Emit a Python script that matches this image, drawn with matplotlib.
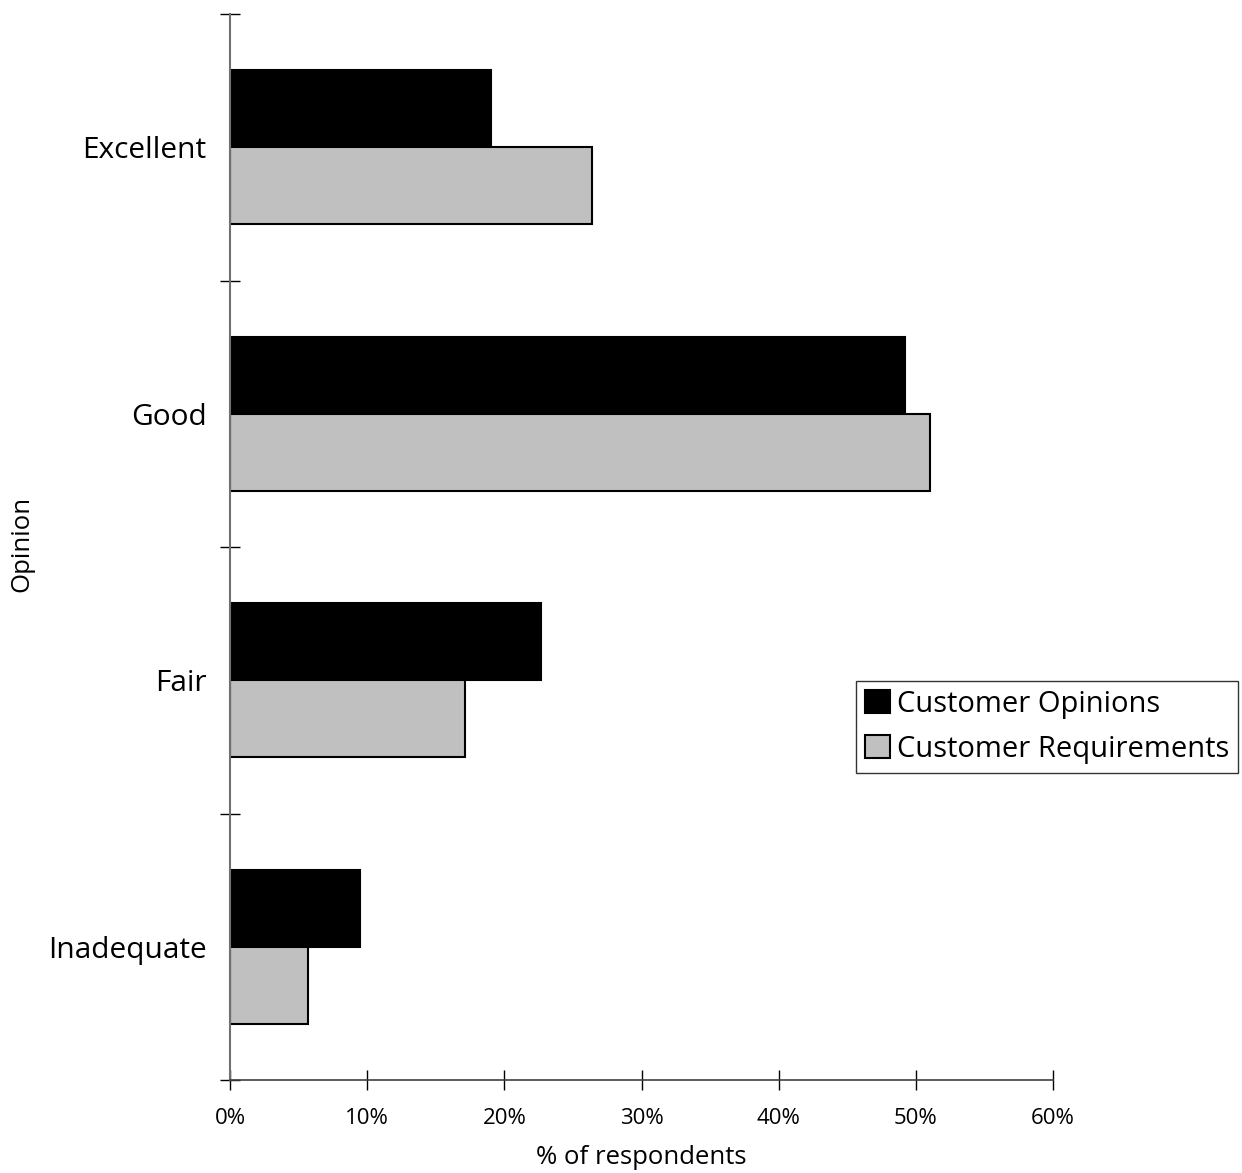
import matplotlib.pyplot as plt
import numpy as np

plt.rcParams['font.family'] = ['Open Sans', 'DejaVu Sans']

opinions = ['Excellent', 'Good', 'Fair', 'Inadequate']
customer_opinions = [19.0, 49.2, 22.7, 9.5]
customer_requirements = [26.4, 51.0, 17.1, 5.7]
x_ticks = [0, 10, 20, 30, 40, 50, 60]

fig = plt.figure(figsize=(12.42, 11.73), dpi=100)
ax = fig.add_axes([230 / 1242, 93 / 1173, 823 / 1242, 1066 / 1173])

pos = np.arange(len(opinions))[::-1]
h = 0.289
ax.barh(pos + h / 2, customer_opinions, height=h, color='black',
        edgecolor='black', linewidth=1.5, label='Customer Opinions')
ax.barh(pos - h / 2, customer_requirements, height=h, color='#c0c0c0',
        edgecolor='black', linewidth=1.5, label='Customer Requirements')

ax.set_xlim(0, 60)
ax.set_ylim(-0.5, len(opinions) - 0.5)

ax.set_xticks(x_ticks)
ax.set_xticklabels([f'{t}%' for t in x_ticks], fontsize=16)
ax.tick_params(axis='x', direction='inout', length=14, width=1, pad=13)

ax.set_yticks(np.arange(len(opinions) + 1) - 0.5)
ax.set_yticklabels([])
ax.set_yticks(pos, minor=True)
ax.set_yticklabels(opinions, minor=True, fontsize=21.5)
ax.tick_params(axis='y', which='major', direction='inout', length=14, width=1)
ax.tick_params(axis='y', which='minor', length=0, pad=17)

for s in ['top', 'right']:
    ax.spines[s].set_visible(False)
ax.spines['left'].set_color('#707070')
ax.spines['left'].set_linewidth(1.5)
ax.spines['bottom'].set_color('#404040')
ax.spines['bottom'].set_linewidth(1.2)

ax.set_xlabel('% of respondents', fontsize=18.5, labelpad=12)
fig.text(22 / 1242, 1 - 544 / 1173, 'Opinion', fontsize=18.5,
         rotation=90, ha='center', va='center')

leg = fig.legend(loc='upper left', bbox_to_anchor=(856 / 1242, 1 - 681 / 1173),
                 fontsize=21, frameon=True, fancybox=False, handlelength=0.85,
                 handleheight=0.85, handletextpad=0.25, borderpad=0.3,
                 labelspacing=0.55, borderaxespad=0)
leg.get_frame().set_edgecolor('black')
leg.get_frame().set_linewidth(1)

fig.savefig('out.png', dpi=100)
